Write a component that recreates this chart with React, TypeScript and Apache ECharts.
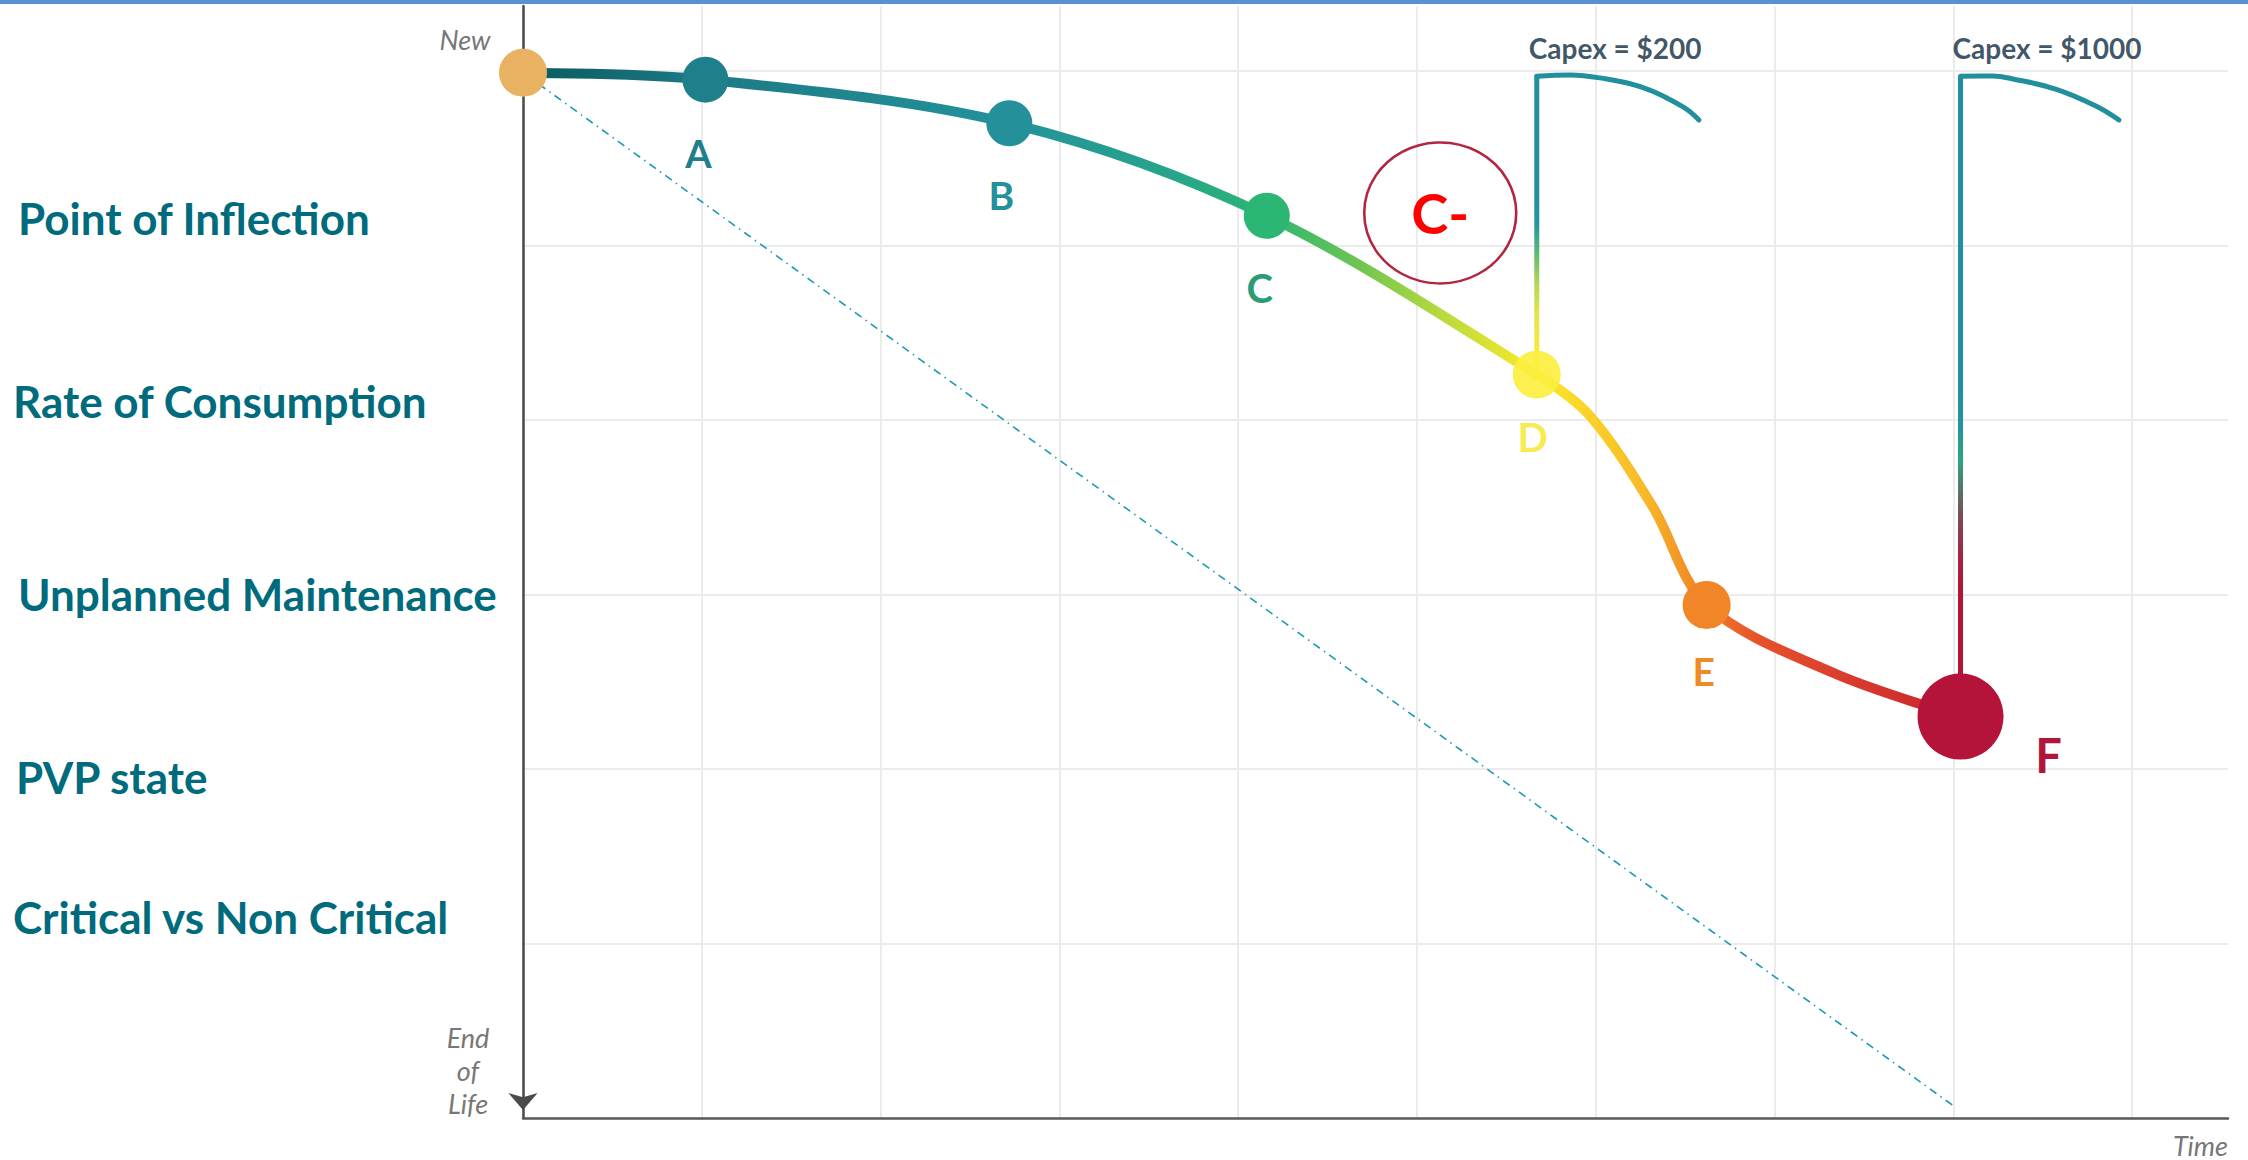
import React, { useEffect, useRef } from "react";
import * as echarts from "echarts";

// ---------------- data ----------------
const stageNames = ["New", "A", "B", "C", "D", "E", "F"];
const stageTime = [0.0, 1.02, 2.72, 4.16, 5.67, 6.62, 8.04];
const stageCondition = [5.99, 5.95, 5.7, 5.17, 4.26, 2.94, 2.3];

const curveTime = [0, 1.02, 2.72, 4.16, 5.67, 5.97, 6.32, 6.62, 7.33, 8.04];
const curveCondition = [5.99, 5.95, 5.7, 5.17, 4.26, 4.02, 3.5, 2.94, 2.55, 2.3];

const straightTime = [0, 8.0];
const straightCondition = [5.99, 0.07];

const capexLabels = ["Capex = $200", "Capex = $1000"];
const capexTime = [5.67, 8.04];
const capexBase = [4.26, 2.3];
const capexTop = [5.97, 5.97];
const hook200Time = [5.67, 5.856, 6.023, 6.253, 6.488, 6.577];
const hook200Condition = [5.97, 5.977, 5.96, 5.908, 5.794, 5.719];
const hook1000Time = [8.04, 8.221, 8.333, 8.568, 8.797, 8.926];
const hook1000Condition = [5.97, 5.971, 5.954, 5.897, 5.799, 5.719];

const gradeText = "C-";
const gradeTime = 5.13;
const gradeCondition = 5.186;

const factorLabels = [
  "Point of Inflection",
  "Rate of Consumption",
  "Unplanned Maintenance",
  "PVP state",
  "Critical vs Non Critical",
];

const yAxisTopLabel = "New";
const yAxisBottomLabel = "End\nof\nLife";
const xAxisLabel = "Time";

const X_MAX = 9.536;
const Y_MAX = 6.372;

// ---------------- styles ----------------
const stageColors = ["#E9B262", "#1E808B", "#24919A", "#2CB673", "#FCEE3E", "#F18628", "#B4143A"];
const stageOpacity = [1, 1, 1, 1, 0.9, 1, 1];
const stageLabelColors = ["#000", "#1F7F8C", "#23909A", "#2A9C78", "#F6E93C", "#F08A24", "#B3143A"];
const stageSizes = [48, 46, 46, 46, 48, 48, 86];
const stageLabelOffsets = [[0, 0], [-7, 73], [-8, 72], [-7, 72], [-4, 62], [-3, 66], [88, 38]];
const stageLabelSizes = [0, 38, 39, 40, 40, 39, 47];
const factorLabelX = [18, 13, 18, 16, 13];
const factorLabelY = [218, 401, 594, 777, 917];

const capex200Colors = ["#F9EC3B", "#F4EA40", "#E4E44A", "#B9D658", "#62BC6C", "#2597A0", "#21909C", "#21909C", "#21909C", "#21909C", "#21909C"];
const capex1000Colors = [
  "#B3143A", "#B3143A", "#B3143A", "#B3143A", "#B3143A",
  "#A22540", "#84434F", "#5A7065", "#2EA47F", "#23959A",
  "#21909C", "#21909C", "#21909C", "#21909C", "#21909C", "#21909C",
  "#21909C", "#21909C", "#21909C", "#21909C", "#21909C",
];

const zip = (a: number[], b: number[]) => a.map((v, i) => [v, b[i]]);

function buildOption(): any {
  const curveGradient = new echarts.graphic.LinearGradient(0, 0, 1, 0, [
    { offset: 0, color: "#0A5A5F" },
    { offset: 0.126, color: "#1C7A86" },
    { offset: 0.34, color: "#23929A" },
    { offset: 0.45, color: "#27A48A" },
    { offset: 0.516, color: "#2BB673" },
    { offset: 0.58, color: "#6DC452" },
    { offset: 0.64, color: "#B9DA3E" },
    { offset: 0.705, color: "#FBEA2A" },
    { offset: 0.78, color: "#F8B928" },
    { offset: 0.823, color: "#F07D26" },
    { offset: 0.86, color: "#E6512A" },
    { offset: 1, color: "#C8222F" },
  ]);

  const stageData = stageTime.map((t, i) => ({
    value: [t, stageCondition[i]],
    name: stageNames[i],
    symbolSize: stageSizes[i],
    itemStyle: { color: stageColors[i], opacity: stageOpacity[i] },
    label: {
      show: i > 0,
      formatter: stageNames[i],
      position: "inside",
      offset: stageLabelOffsets[i],
      color: stageLabelColors[i],
      fontSize: stageLabelSizes[i],
      fontWeight: "bold",
      fontFamily: "Lato",
      textBorderWidth: 0,
    },
  }));

  return {
    animation: false,
    backgroundColor: "#ffffff",
    grid: { left: 523, right: 20, top: 6, bottom: 42 },
    xAxis: {
      type: "value",
      min: 0,
      max: X_MAX,
      interval: 1,
      axisLine: { show: true, onZero: false, lineStyle: { color: "#5A5A5A", width: 2.5 } },
      axisTick: { show: false },
      axisLabel: { show: false },
      splitLine: { show: true, showMaxLine: false, lineStyle: { color: "#EBEBEB", width: 2 } },
    },
    yAxis: {
      type: "value",
      min: 0,
      max: Y_MAX,
      interval: 1,
      axisLine: {
        show: true,
        onZero: false,
        symbol: ["arrow", "none"],
        symbolSize: [22, 17],
        symbolOffset: [8, 0],
        lineStyle: { color: "#4A4A4A", width: 2.5 },
      },
      axisTick: { show: false },
      axisLabel: { show: false },
      splitLine: { show: true, showMaxLine: false, lineStyle: { color: "#EBEBEB", width: 2 } },
    },
    visualMap: [
      {
        type: "continuous",
        show: false,
        seriesIndex: 2,
        dimension: 1,
        min: capexBase[0],
        max: capexTop[0],
        inRange: { color: capex200Colors },
      },
      {
        type: "continuous",
        show: false,
        seriesIndex: 3,
        dimension: 1,
        min: capexBase[1],
        max: capexTop[1],
        inRange: { color: capex1000Colors },
      },
    ],
    series: [
      {
        type: "line",
        data: zip(straightTime, straightCondition),
        symbol: "none",
        silent: true,
        z: 1,
        lineStyle: { color: "#1A9AB4", width: 1.6, type: [8, 5, 1.5, 5] },
      },
      {
        type: "line",
        data: zip(curveTime, curveCondition),
        symbol: "none",
        smooth: 0.33,
        silent: true,
        z: 2,
        lineStyle: { color: curveGradient, width: 10, cap: "round" },
      },
      {
        type: "line",
        data: [[capexTime[0], capexBase[0]], [capexTime[0], capexTop[0]]],
        symbol: "none",
        silent: true,
        z: 2,
        lineStyle: { width: 5 },
      },
      {
        type: "line",
        data: [[capexTime[1], capexBase[1]], [capexTime[1], capexTop[1]]],
        symbol: "none",
        silent: true,
        z: 2,
        lineStyle: { width: 5 },
      },
      {
        type: "line",
        data: zip(hook200Time, hook200Condition),
        symbol: "none",
        smooth: 0.4,
        silent: true,
        z: 2,
        lineStyle: { color: "#22909C", width: 5, cap: "round" },
      },
      {
        type: "line",
        data: zip(hook1000Time, hook1000Condition),
        symbol: "none",
        smooth: 0.4,
        silent: true,
        z: 2,
        lineStyle: { color: "#22909C", width: 5, cap: "round" },
      },
      {
        type: "scatter",
        data: stageData,
        symbol: "circle",
        silent: true,
        z: 5,
      },
      {
        type: "scatter",
        data: [[gradeTime, gradeCondition]],
        symbol: "circle",
        symbolSize: [152, 141],
        silent: true,
        z: 4,
        itemStyle: { color: "rgba(255,255,255,0)", borderColor: "#B32640", borderWidth: 2.5, opacity: 1 },
        label: {
          show: true,
          formatter: gradeText,
          position: "inside",
          color: "#FF0000",
          fontSize: 56,
          fontWeight: "bold",
          fontFamily: "Lato",
          textBorderWidth: 0,
        },
      },
      {
        type: "scatter",
        data: capexTime.map((t, i) => ({ value: [t, capexTop[i]], name: capexLabels[i] })),
        symbol: "circle",
        symbolSize: 1,
        silent: true,
        z: 4,
        itemStyle: { color: "rgba(0,0,0,0)" },
        label: {
          show: true,
          formatter: (p: any) => p.name,
          position: "inside",
          align: "left",
          verticalAlign: "middle",
          offset: [-8, -28],
          color: "#0D2A3F",
          fontSize: 28,
          fontWeight: "bold",
          fontFamily: "Lato",
          textBorderWidth: 0,
        },
      },
    ],
    graphic: [
      {
        type: "rect",
        x: 0,
        y: 0,
        shape: { x: 0, y: 0, width: 2248, height: 4 },
        style: { fill: "#5B8ED5" },
        silent: true,
      },
      ...factorLabels.map((t, i) => ({
        type: "text",
        x: factorLabelX[i],
        y: factorLabelY[i],
        silent: true,
        style: {
          text: t,
          fill: "#006B7C",
          fontSize: 44,
          fontWeight: "bold",
          fontFamily: "Lato",
          align: "left",
          verticalAlign: "middle",
        },
      })),
      {
        type: "text",
        x: 465,
        y: 39,
        silent: true,
        style: {
          text: yAxisTopLabel,
          fill: "#777777",
          fontSize: 27,
          fontStyle: "italic",
          fontFamily: "Lato",
          align: "center",
          verticalAlign: "middle",
        },
      },
      {
        type: "text",
        x: 468,
        y: 1070,
        silent: true,
        style: {
          text: yAxisBottomLabel,
          fill: "#777777",
          fontSize: 27,
          lineHeight: 33,
          fontStyle: "italic",
          fontFamily: "Lato",
          align: "center",
          verticalAlign: "middle",
        },
      },
      {
        type: "text",
        x: 2228,
        y: 1145,
        silent: true,
        style: {
          text: xAxisLabel,
          fill: "#777777",
          fontSize: 27,
          fontStyle: "italic",
          fontFamily: "Lato",
          align: "right",
          verticalAlign: "middle",
        },
      },
    ],
  };
}

export default function App() {
  const ref = useRef<HTMLDivElement>(null);
  useEffect(() => {
    const el = ref.current;
    if (!el) return;
    const chart = echarts.init(el, null, { renderer: "svg" });
    chart.setOption(buildOption());
    return () => chart.dispose();
  }, []);
  return (
    <div
      ref={ref}
      style={{ position: "fixed", left: 0, top: 0, width: 2248, height: 1160, background: "#ffffff" }}
    />
  );
}
